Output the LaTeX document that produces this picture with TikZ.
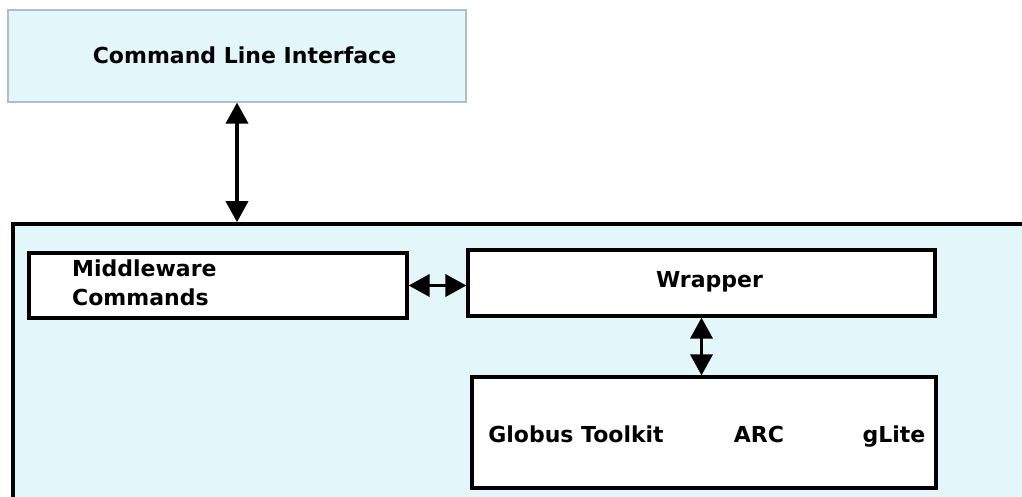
\documentclass[tikz,border=0pt]{standalone}
\usepackage{fontspec}
\setmainfont{DejaVu Sans}
\usetikzlibrary{arrows.meta}
\definecolor{paleblue}{RGB}{227,246,249}
\definecolor{edgegray}{RGB}{172,192,197}

\begin{document}
\begin{tikzpicture}[x=1pt, y=-1pt,
    box/.style={draw, line width=3.2pt, fill=white, inner sep=0pt},
    lbl/.style={font=\fontsize{22}{28.7}\selectfont\bfseries, inner sep=0pt},
    link/.style={line width=3.6pt, {Triangle[length=21pt,width=22pt]}-{Triangle[length=21pt,width=22pt]}}]
    \clip (0,0) rectangle (1022,497);
    \fill[white] (0,0) rectangle (1022,497);

    \node[draw=edgegray, line width=1.2pt, fill=paleblue, inner sep=0pt,
          minimum width=458, minimum height=92] (cli) at (237,56) {};
    \node[lbl, anchor=base] (clitext) at (244.5,64) {Command Line Interface};

    \node[draw, line width=3.6pt, fill=paleblue, inner sep=0pt,
          minimum width=1037, minimum height=306] (sys) at (531.5,377) {};

    \node[box, minimum width=378, minimum height=65] (mw) at (218,285.5) {};
    \node[lbl, anchor=north west, align=left] (mwtext) at (72,260) {Middleware\\Commands};

    \node[box, minimum width=467, minimum height=66] (wrap) at (701.5,283) {};
    \node[lbl, anchor=base] (wraptext) at (709.5,287) {Wrapper};

    \node[box, minimum width=464, minimum height=111] (grid) at (704,432.5) {};
    \node[lbl, anchor=base] (globus) at (576,442) {Globus Toolkit};
    \node[lbl, anchor=base] (arc) at (759,442) {ARC};
    \node[lbl, anchor=base] (glite) at (894,442) {gLite};

    \draw[link] (cli.south) -- (cli.south |- sys.north);
    \draw[link] (mw.east) -- (mw.east -| wrap.west);
    \draw[link] (wrap.south) -- (wrap.south |- grid.north);
\end{tikzpicture}
\end{document}
